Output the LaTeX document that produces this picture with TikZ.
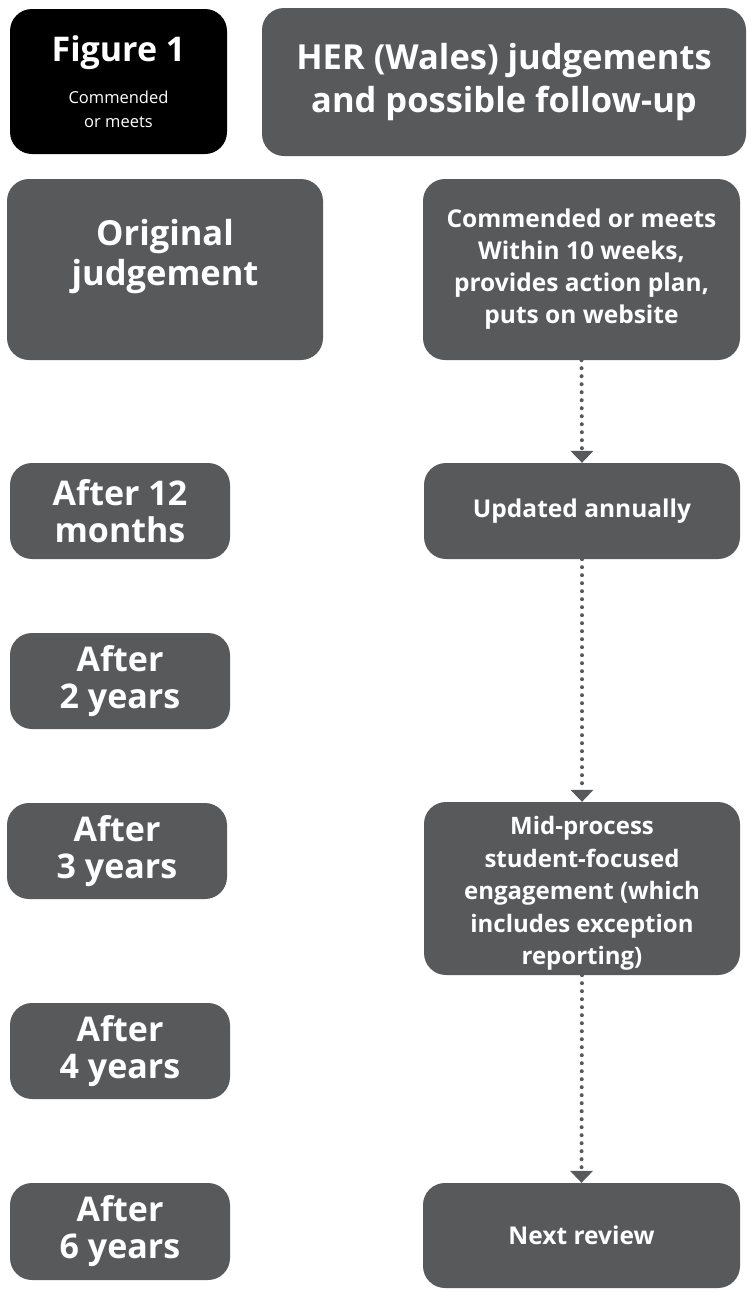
\documentclass[tikz,border=0pt]{standalone}
\usepackage{fontspec}
\setmainfont{Open Sans}
\usetikzlibrary{arrows.meta}
\usetikzlibrary{positioning}
\definecolor{hergrey}{HTML}{58595B}
\tikzset{box/.style = {fill=hergrey, text=white, rounded corners=22pt,
                       align=center, inner sep=0pt, font=\bfseries}}
\tikzset{figbox/.style = {box, fill=black}}
\tikzset{flow/.style = {hergrey, line width=4pt, line cap=round,
                        dash pattern=on 0pt off 8pt,
                        -{Triangle[width=23pt,length=12pt,line width=0pt]}}}
\newcommand{\titlefont}{\fontsize{34.5}{43}\selectfont}
\newcommand{\stagefont}{\fontsize{34}{37}\selectfont}
\newcommand{\stepfont}{\fontsize{24.5}{32}\selectfont}
\newcommand{\notefont}{\fontsize{16.5}{24}\selectfont\mdseries}

\begin{document}
\begin{tikzpicture}[x=1pt, y=-1pt]
      \useasboundingbox (0, 0) rectangle (750, 1293);
      % heading
      \node [figbox, minimum width=217pt, minimum height=145pt,
             font=\bfseries\fontsize{34}{24}\selectfont] (fig) at (118.5, 81.5)
            {Figure 1\\[18pt] \notefont Commended\\ \notefont or meets};
      \node [box, minimum width=484pt, minimum height=148pt, font=\bfseries\titlefont] (title) at (504, 82)
            {HER (Wales) judgements\\and possible follow-up};
      % left column
      \node [box, minimum width=316pt, minimum height=181pt,
             font=\bfseries\fontsize{34.5}{40}\selectfont] (orig) at (165, 269.5)
            {Original\\judgement\\[-17pt]\strut};
      \node [box, minimum width=220pt, minimum height=96pt, font=\bfseries\stagefont] (m12) at (120, 511) {After 12\\months};
      \node [box, minimum width=220pt, minimum height=96pt, font=\bfseries\stagefont] (y2) at (120, 681) {After\\2 years};
      \node [box, minimum width=220pt, minimum height=96pt, font=\bfseries\stagefont] (y3) at (117, 851) {After\\3 years};
      \node [box, minimum width=220pt, minimum height=96pt, font=\bfseries\stagefont] (y4) at (120, 1051) {After\\4 years};
      \node [box, minimum width=220pt, minimum height=97pt, font=\bfseries\stagefont] (y6) at (120, 1231.5) {After\\6 years};
      % right column
      \node [box, minimum width=317pt, minimum height=181pt, font=\bfseries\stepfont] (comm) at (581.5, 269.5)
            {Commended or meets\\Within 10 weeks,\\provides action plan,\\puts on website};
      \node [box, minimum width=316pt, minimum height=96pt, font=\bfseries\stepfont] (upd) at (582, 511) {Updated annually};
      \node [box, minimum width=316pt, minimum height=173pt, font=\bfseries\fontsize{24}{32.5}\selectfont] (mid) at (582, 888.5)
            {\strut\\[-27pt]Mid-process\\student-focused\\engagement (which\\includes exception\\reporting)};
      \node [box, minimum width=317pt, minimum height=105pt, font=\bfseries\stepfont] (next) at (581.5, 1235.5) {Next review};
      % follow-up
      \draw [flow] (comm.south) -- (upd.north);
      \draw [flow] (upd.south) -- (mid.north);
      \draw [flow] (mid.south) -- (next.north);
\end{tikzpicture}
\end{document}
